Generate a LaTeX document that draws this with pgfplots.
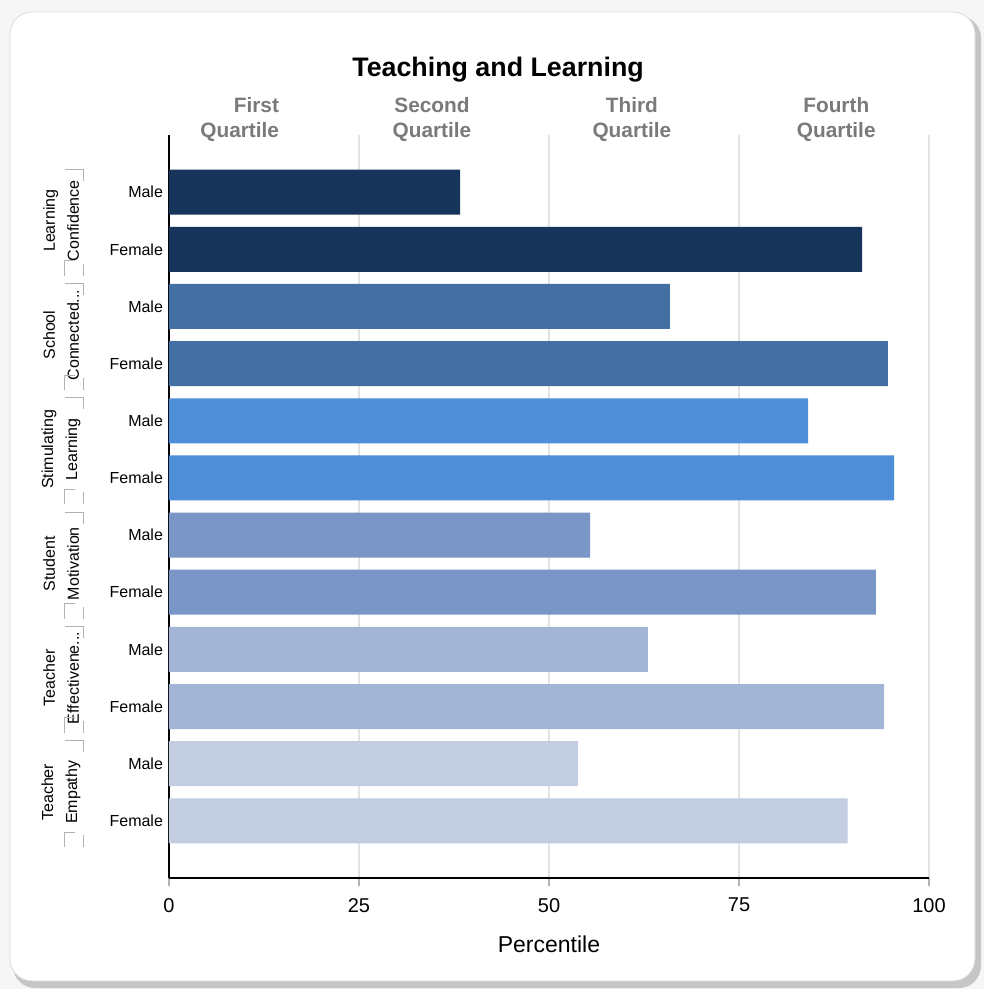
\documentclass[border=0pt]{standalone}
\usepackage{fontspec}
\setmainfont{Liberation Sans}
\usepackage{pgfplots}
\pgfplotsset{compat=1.18}

\definecolor{gA}{HTML}{17345A}
\definecolor{gB}{HTML}{436FA3}
\definecolor{gC}{HTML}{4F8ED9}
\definecolor{gD}{HTML}{7996C6}
\definecolor{gE}{HTML}{A3B5D6}
\definecolor{gF}{HTML}{C3CDE1}
\definecolor{qgray}{HTML}{7A7A7A}

% bracket beside a group label: top and bottom ends (axis y values)
\newcommand{\grp}[2]{%
  \draw[gray!60, line width=0.5pt] (axis cs:-13.7,#1) -- (axis cs:-11.3,#1) -- (axis cs:-11.3,#1-0.2);
  \draw[gray!60, line width=0.5pt] (axis cs:-12.4,#2+0.26) -- (axis cs:-13.7,#2+0.26) -- (axis cs:-13.7,#2);
  \draw[gray!60, line width=0.5pt] (axis cs:-11.3,#2+0.21) -- (axis cs:-11.3,#2);
}

\begin{document}
\begin{tikzpicture}
% page background and card
\fill[gray!7] (-84.5pt,-55.5pt) rectangle (407.5pt,439pt);
\fill[gray!45,rounded corners=11pt] (-78pt,-55pt) rectangle (406pt,431pt);
\filldraw[fill=white,draw=gray!30,rounded corners=11pt] (-79.5pt,-51.5pt) rectangle (403pt,433pt);

\begin{axis}[
  at={(0,0)}, anchor=south west,
  scale only axis, width=380pt, height=371.5pt,
  xmin=0, xmax=100, ymin=-1, ymax=12,
  xbar, bar width=22.5pt, bar shift=0pt,
  axis x line*=bottom, axis y line*=left,
  axis line style={-, line width=1pt, black},
  xtick={0,25,50,75,100},
  xmajorgrids, grid style={gray!22, line width=1pt},
  tick align=outside, major tick length=4pt,
  x tick style={gray!60, line width=0.6pt},
  ytick={0,...,11},
  yticklabels={Female,Male,Female,Male,Female,Male,Female,Male,Female,Male,Female,Male},
  y tick style={draw=none},
  yticklabel style={font=\fontsize{8}{9}\selectfont, xshift=4.5pt},
  xticklabel style={font=\fontsize{10}{12}\selectfont, yshift=-2.5pt},
  /pgf/number format/assume math mode=true,
  xlabel={Percentile},
  xlabel style={font=\fontsize{11.5}{13}\selectfont, at={(axis description cs:0.5,0)}, anchor=center, yshift=-33pt},
  clip=false
]
\addplot[fill=gA, draw=none] coordinates {(38.3,11) (91.2,10)};
\addplot[fill=gB, draw=none] coordinates {(65.9,9) (94.6,8)};
\addplot[fill=gC, draw=none] coordinates {(84.1,7) (95.4,6)};
\addplot[fill=gD, draw=none] coordinates {(55.4,5) (93.0,4)};
\addplot[fill=gE, draw=none] coordinates {(63.0,3) (94.1,2)};
\addplot[fill=gF, draw=none] coordinates {(53.8,1) (89.3,0)};

% title and quartile headings
\node[font=\bfseries\fontsize{13.4}{15}\selectfont] at (axis cs:43.3,13.14) {Teaching and Learning};
\begin{scope}[every node/.style={font=\bfseries\fontsize{10.4}{12.5}\selectfont, text=qgray}]
\node[align=right, anchor=east] at (axis cs:15.4,12.27) {First\\Quartile};
\node[align=center] at (axis cs:34.6,12.27) {Second\\Quartile};
\node[align=center] at (axis cs:60.9,12.27) {Third\\Quartile};
\node[align=center] at (axis cs:87.8,12.27) {Fourth\\Quartile};
\end{scope}

% group labels
\begin{scope}[every node/.style={rotate=90, align=center, font=\fontsize{8}{12}\selectfont}]
\node at (axis cs:-14.2,10.5) {Learning\\Confidence};
\node at (axis cs:-14.2,8.5) {School\\Connected...};
\node at (axis cs:-14.2,6.5) {Stimulating\\Learning};
\node at (axis cs:-14.2,4.5) {Student\\Motivation};
\node at (axis cs:-14.2,2.5) {Teacher\\Effectivene...};
\node at (axis cs:-14.2,0.5) {Teacher\\Empathy};
\end{scope}
\grp{11.4}{9.54}
\grp{9.4}{7.54}
\grp{7.4}{5.54}
\grp{5.4}{3.54}
\grp{3.4}{1.54}
\grp{1.4}{-0.46}
\end{axis}
\pgfresetboundingbox
\useasboundingbox (-84.5pt,-55.5pt) rectangle (407.5pt,439pt);
\end{tikzpicture}
\end{document}
